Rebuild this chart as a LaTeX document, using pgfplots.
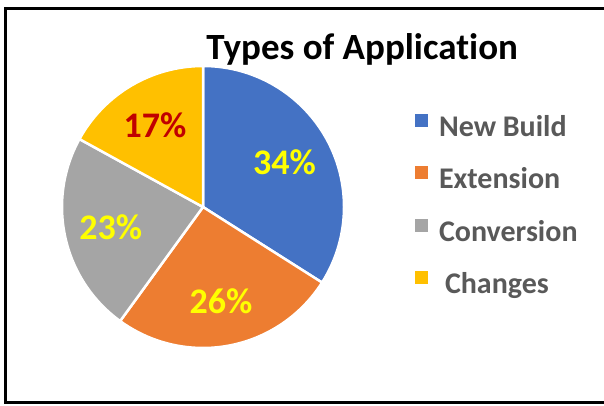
\documentclass[border=0pt]{standalone}
\usepackage{fontspec}
\setmainfont{Carlito}[Ligatures=NoCommon]
\usepackage{pgfplots}
\usepackage{pgfplotstable}
\pgfplotsset{compat=1.18}
\definecolor{cNew}{HTML}{4472C4}
\definecolor{cExt}{HTML}{ED7D31}
\definecolor{cCon}{HTML}{A5A5A5}
\definecolor{cCha}{HTML}{FFC000}
\definecolor{cText}{HTML}{595959}
\definecolor{cYel}{HTML}{FFFF00}
\definecolor{cRed}{HTML}{C00000}
\begin{document}
\pgfplotstableread{
name value
NewBuild 34
Extension 26
Conversion 23
Changes 17
}\piedata
\begin{tikzpicture}
\useasboundingbox (0pt,0pt) rectangle (604pt,405pt);
\draw[line width=3pt] (640pt,396pt) -- (5.5pt,396pt) -- (5.5pt,2.7pt) -- (640pt,2.7pt);
\node[anchor=base, inner sep=0pt] at (362.2pt,345pt) {\fontsize{37}{41}\selectfont\bfseries Types of Application};
\pgfplotstablegetelem{0}{value}\of\piedata \let\vA\pgfplotsretval
\pgfplotstablegetelem{1}{value}\of\piedata \let\vB\pgfplotsretval
\pgfplotstablegetelem{2}{value}\of\piedata \let\vC\pgfplotsretval
\pgfplotstablegetelem{3}{value}\of\piedata \let\vD\pgfplotsretval
\pgfmathsetmacro\aA{90}
\pgfmathsetmacro\aB{\aA-3.6*\vA}
\pgfmathsetmacro\aC{\aB-3.6*\vB}
\pgfmathsetmacro\aD{\aC-3.6*\vC}
\pgfmathsetmacro\aE{\aD-3.6*\vD}
\pgfmathsetmacro\mA{(\aA+\aB)/2}
\pgfmathsetmacro\mB{(\aB+\aC)/2}
\pgfmathsetmacro\mC{(\aC+\aD)/2}
\pgfmathsetmacro\mD{(\aD+\aE)/2}
\begin{axis}[
  at={(203pt,198pt)}, anchor=center,
  scale only axis, width=282pt, height=282pt,
  xmin=-1, xmax=1, ymin=-1, ymax=1,
  hide axis, clip=false,
  legend cell align=left,
  legend image code/.code={\fill[#1, draw=none] (0pt,2pt) rectangle (13pt,15pt);},
  legend style={at={(1.2518,0.8298)}, anchor=north west, draw=none, fill=none,
    inner sep=0pt, outer sep=0pt,
    font=\fontsize{30}{36}\selectfont\bfseries, text=cText,
    row sep=24pt,
    nodes={inner sep=0pt, text height=21pt, text depth=6pt},
    /tikz/every odd column/.append style={column sep=11pt}},
]
\addlegendimage{fill=cNew, draw=none}\addlegendentry{New Build}
\addlegendimage{fill=cExt, draw=none}\addlegendentry{Extension}
\addlegendimage{fill=cCon, draw=none}\addlegendentry{Conversion}
\addlegendimage{fill=cCha, draw=none}\addlegendentry{\hspace{6pt}Changes}
\filldraw[fill=cNew, draw=white, line width=2.5pt] (axis cs:0,0) -- (axis cs:{cos(\aA)},{sin(\aA)}) arc[start angle=\aA, end angle=\aB, radius=141pt] -- cycle;
\filldraw[fill=cExt, draw=white, line width=2.5pt] (axis cs:0,0) -- (axis cs:{cos(\aB)},{sin(\aB)}) arc[start angle=\aB, end angle=\aC, radius=141pt] -- cycle;
\filldraw[fill=cCon, draw=white, line width=2.5pt] (axis cs:0,0) -- (axis cs:{cos(\aC)},{sin(\aC)}) arc[start angle=\aC, end angle=\aD, radius=141pt] -- cycle;
\filldraw[fill=cCha, draw=white, line width=2.5pt] (axis cs:0,0) -- (axis cs:{cos(\aD)},{sin(\aD)}) arc[start angle=\aD, end angle=\aE, radius=141pt] -- cycle;
\node[text=cYel, font=\fontsize{36}{40}\selectfont\bfseries, inner sep=0pt] at (axis cs:{0.66*cos(\mA)},{0.66*sin(\mA)}) {\vA\%};
\node[text=cYel, font=\fontsize{36}{40}\selectfont\bfseries, inner sep=0pt] at (axis cs:{0.68*cos(\mB)},{0.68*sin(\mB)}) {\vB\%};
\node[text=cYel, font=\fontsize{36}{40}\selectfont\bfseries, inner sep=0pt] at (axis cs:{0.67*cos(\mC)},{0.67*sin(\mC)}) {\vC\%};
\node[text=cRed, font=\fontsize{36}{40}\selectfont\bfseries, inner sep=0pt] at (axis cs:{0.67*cos(\mD)},{0.67*sin(\mD)}) {\vD\%};
\end{axis}
\end{tikzpicture}
\end{document}
